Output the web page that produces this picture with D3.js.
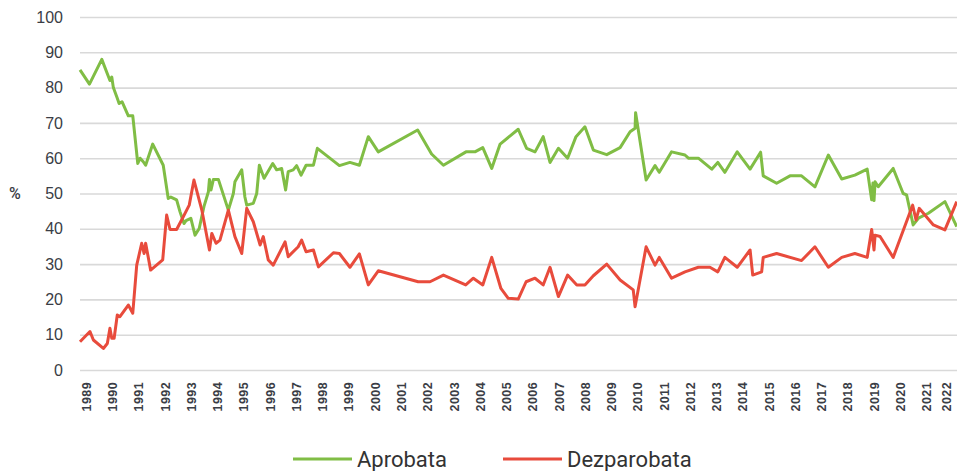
<!DOCTYPE html>
<html>
<head>
<meta charset="utf-8">
<script src="https://cdn.jsdelivr.net/npm/d3@7"></script>
<style>
  body { margin: 0; background: #fff; }
  svg { font-family: Roboto, "Noto Sans", sans-serif; }
</style>
</head>
<body>
<svg width="957" height="471"></svg>
<script>
// Aprobata (approval) series, decimal year -> %
const aprobataYears = [1988.77,1989.13,1989.60,1989.91,1989.98,1990.04,1990.19,1990.26,1990.37,1990.61,1990.78,1990.97,1991.06,1991.18,1991.27,1991.54,1991.94,1992.13,1992.23,1992.45,1992.58,1992.73,1992.81,1992.99,1993.15,1993.31,1993.49,1993.66,1993.70,1993.76,1993.85,1994.04,1994.42,1994.61,1994.67,1994.93,1995.05,1995.12,1995.37,1995.50,1995.60,1995.78,1996.11,1996.26,1996.45,1996.60,1996.70,1996.89,1997.02,1997.19,1997.38,1997.66,1997.81,1998.65,1999.05,1999.41,1999.75,2000.13,2001.63,2002.16,2002.61,2003.47,2003.81,2004.11,2004.45,2004.77,2005.46,2005.78,2006.10,2006.41,2006.67,2006.99,2007.34,2007.66,2008.00,2008.32,2008.83,2009.34,2009.72,2009.91,2009.93,2010.33,2010.67,2010.83,2011.30,2011.81,2011.94,2012.32,2012.83,2013.06,2013.33,2013.80,2014.29,2014.69,2014.79,2015.30,2015.81,2016.25,2016.76,2017.27,2017.78,2018.28,2018.75,2018.92,2018.97,2019.01,2019.05,2019.17,2019.74,2020.12,2020.25,2020.50,2020.70,2021.08,2021.71,2022.16];
const aprobataValues = [85,81,88,82,83,80,77,75.5,76,72,72,58.5,60,59,58,64,58,48.6,49,48.2,44.8,41.5,42.3,43,38.2,40.1,46.3,50.5,54,51,54,54,45.3,50,53.3,56.7,49,46.7,47.2,50,58,54.3,58.5,56.7,57.1,51,56.2,56.7,57.9,55.2,58,58,62.8,57.9,58.8,58,66.1,61.8,68,61.2,58,61.8,61.8,63,57.1,64,68.2,62.8,61.8,66.1,58.8,62.8,60,66.1,68.9,62.3,61,63,67.5,68.5,72.9,53.8,57.9,56,61.8,60.9,60,60,56.9,58.8,56,61.8,56.9,61.7,55,52.9,55,55,51.9,60.9,54.1,55.2,56.9,48.2,53,48,53.3,51.9,57.1,50,49.6,41.1,43,44.4,47.7,40.6];

// Dezparobata (disapproval) series
const dezYears = [1988.77,1989.15,1989.28,1989.66,1989.81,1989.91,1989.98,1990.07,1990.19,1990.29,1990.61,1990.78,1990.93,1991.12,1991.21,1991.27,1991.46,1991.92,1992.07,1992.20,1992.45,1992.64,1992.93,1993.11,1993.41,1993.70,1993.79,1993.95,1994.10,1994.42,1994.67,1994.93,1995.12,1995.37,1995.63,1995.75,1995.94,1996.13,1996.58,1996.70,1997.08,1997.21,1997.38,1997.66,1997.85,1998.42,1998.65,1999.05,1999.41,1999.75,2000.13,2001.65,2002.10,2002.61,2003.46,2003.75,2004.11,2004.45,2004.80,2005.08,2005.46,2005.76,2006.10,2006.41,2006.67,2006.99,2007.34,2007.69,2008.00,2008.32,2008.83,2009.34,2009.84,2009.91,2010.33,2010.67,2010.83,2011.30,2011.81,2012.32,2012.76,2013.06,2013.33,2013.80,2014.29,2014.39,2014.73,2014.79,2015.30,2016.25,2016.76,2017.27,2017.78,2018.28,2018.75,2018.92,2019.01,2019.05,2019.24,2019.74,2020.48,2020.61,2020.73,2021.27,2021.71,2022.16];
const dezValues = [8,10.9,8.5,6.1,7.5,11.8,9,9,15.6,15.1,18.4,16.1,29.7,35.9,33,35.9,28.3,31.2,43.9,39.8,39.8,42.5,46.7,53.8,45.3,34,38.7,35.9,36.8,45.3,37.8,33,45.8,42,35.4,37.8,31.2,29.7,36.3,32.1,34.9,36.8,33.5,34,29.2,33.2,33,29.1,32.9,24.1,28.1,25,25,26.9,24.1,26,24.1,31.9,23.1,20.3,20.1,25,26,24.1,29.1,20.8,26.9,24.1,24.1,26.7,30,25.5,22.7,17.9,34.9,29.7,31.9,26,27.8,29.1,29.1,27.8,31.9,29.1,34,26.9,27.8,31.9,33,31,34.9,29.1,31.9,33,31.9,39.8,34,38.2,37.8,31.9,46.7,42.5,45.8,41.1,39.7,47.7];

const yearTicks = d3.range(1989, 2023);
const yTicks = d3.range(0, 101, 10);
const seriesNames = ["Aprobata", "Dezparobata"];
const seriesColors = ["#80bd45", "#e84b3c"];

const svg = d3.select("svg");

const x = d3.scaleLinear().domain([1988.77, 2022.17]).range([80, 957]);
const y = d3.scaleLinear().domain([0, 100]).range([370, 17]);

// y axis + gridlines
const yAxis = svg.append("g")
    .attr("transform", "translate(80,0)")
    .call(d3.axisLeft(y).tickValues(yTicks).tickSize(-877).tickPadding(17));
yAxis.select(".domain").remove();
yAxis.selectAll(".tick line").attr("stroke", "#d9d9d9").attr("stroke-width", 1.6);
yAxis.selectAll(".tick text")
    .attr("fill", "#3a3d45")
    .attr("font-size", 16)
    .attr("font-weight", 500);

svg.append("text")
    .attr("x", 15).attr("y", 199)
    .attr("text-anchor", "middle")
    .attr("fill", "#3a3d45")
    .attr("font-size", 16)
    .attr("font-weight", 500)
    .text("%");

// x axis, rotated year labels
const xAxis = svg.append("g")
    .attr("transform", "translate(0,370)")
    .call(d3.axisBottom(x).tickValues(yearTicks).tickFormat(d3.format("d")).tickSize(0));
xAxis.select(".domain").remove();
xAxis.selectAll(".tick text")
    .attr("transform", "rotate(-90)")
    .attr("x", -12)
    .attr("y", d => Math.min(0, 946 - x(d)))
    .attr("dy", "0.35em")
    .attr("text-anchor", "end")
    .attr("fill", "#3a3d45")
    .attr("font-size", 12.5)
    .attr("font-weight", 700)
    .attr("letter-spacing", 0.4);

const line = d3.line()
    .x(d => x(d[0]))
    .y(d => y(d[1]));

const series = [
    d3.zip(aprobataYears, aprobataValues),
    d3.zip(dezYears, dezValues)
];

svg.selectAll(".series")
    .data(series)
    .enter().append("path")
    .attr("class", "series")
    .attr("d", line)
    .attr("fill", "none")
    .attr("stroke", (d, i) => seriesColors[i])
    .attr("stroke-width", 3)
    .attr("stroke-linejoin", "round");

// legend
const legendX = [293, 503];
const legend = svg.selectAll(".legend")
    .data(seriesNames)
    .enter().append("g")
    .attr("class", "legend")
    .attr("transform", (d, i) => `translate(${legendX[i]},459)`);
legend.append("line")
    .attr("x1", 0).attr("x2", 59)
    .attr("stroke", (d, i) => seriesColors[i])
    .attr("stroke-width", 3);
legend.append("text")
    .attr("x", 64).attr("y", 8)
    .attr("font-size", 22)
    .attr("fill", "#333")
    .text(d => d);
</script>
</body>
</html>
